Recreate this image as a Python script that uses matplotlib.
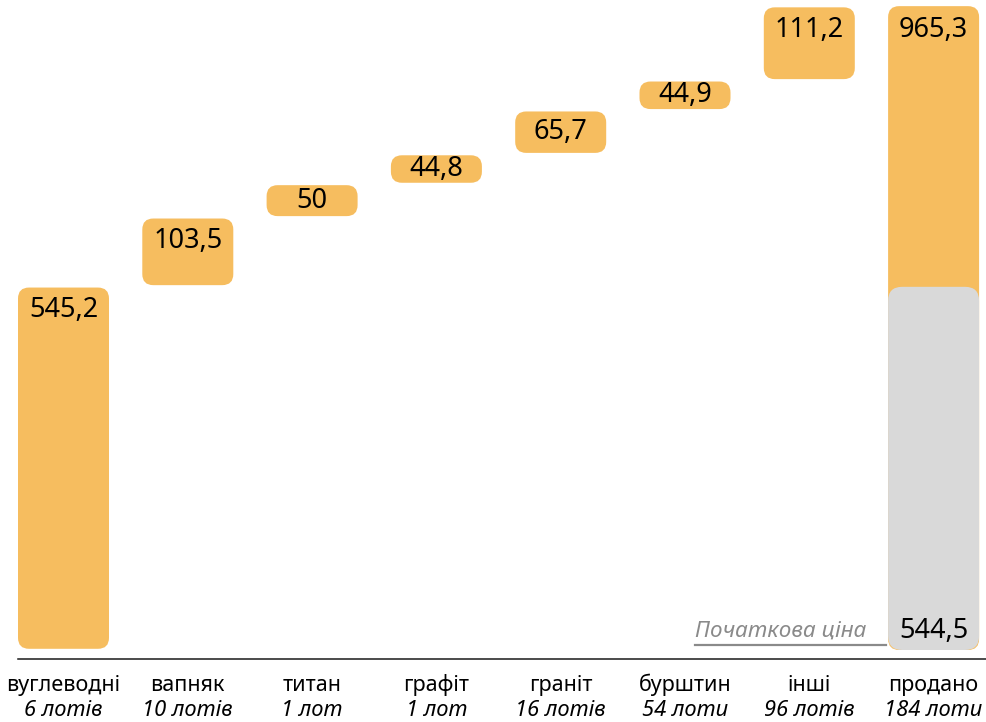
import matplotlib
matplotlib.use("Agg")
import matplotlib.pyplot as plt
from matplotlib.patches import FancyBboxPatch
from matplotlib.lines import Line2D

plt.rcParams['font.family'] = ['Noto Sans', 'DejaVu Sans']

categories = ['вуглеводні', 'вапняк', 'титан', 'графіт', 'граніт', 'бурштин', 'інші', 'продано']
lots = ['6 лотів', '10 лотів', '1 лот', '1 лот', '16 лотів', '54 лоти', '96 лотів', '184 лоти']
increments = [545.2, 103.5, 50, 44.8, 65.7, 44.9, 111.2]
total = 965.3
initial_price = 544.5
initial_label = 'Початкова ціна'

ORANGE = '#F6BD5F'
GREY = '#D9D9D9'

W, H = 986, 722
fig = plt.figure(figsize=(W / 100, H / 100), dpi=100)
ax = fig.add_axes([18 / W, 63 / H, 1 - 18 / W, 659 / H])

px_x = 124.3          # pixels per x unit
px_y = 0.667          # pixels per value unit
ax_w_px = W - 18
ax_h_px = 659
x_left = -45.5 / px_x
ax.set_xlim(x_left, x_left + ax_w_px / px_x)
y_bot = -9 / px_y
ax.set_ylim(y_bot, y_bot + ax_h_px / px_y)

for s in ['top', 'right', 'left']:
    ax.spines[s].set_visible(False)
ax.spines['bottom'].set_color('#1a1a1a')
ax.spines['bottom'].set_linewidth(1.1)
ax.set_xticks([])
ax.set_yticks([])

bw = 91 / px_x
aspect = px_x / px_y
gap = 1.2 / px_y


def rbar(x, bottom, height, color, radius_px=11, shrink=True):
    g = gap if shrink else 0
    y0 = bottom + g
    h = height - 2 * g
    h_px = h * px_y
    r_px = min(radius_px, h_px / 2 - 0.5)
    r = r_px / px_x
    p = FancyBboxPatch((x - bw / 2, y0), bw, h,
                       boxstyle=f"round,pad=0,rounding_size={r}",
                       mutation_aspect=aspect, facecolor=color,
                       edgecolor='none', linewidth=0, zorder=2)
    ax.add_patch(p)


def fmt(v):
    return f"{v:g}".replace('.', ',')


def top_label(x, top, height, text):
    h_px = height * px_y
    off = min(21.5, h_px / 2 - 2.5) + 9.5
    ax.annotate(text, xy=(x, top),
                xytext=(0, -off), textcoords='offset pixels',
                ha='center', va='baseline', fontsize=19.5, color='black', zorder=4)


cum = 0
for i, v in enumerate(increments):
    rbar(i, cum, v, ORANGE)
    top_label(i, cum + v, v, fmt(v))
    cum += v

# total bar with initial price
n = len(increments)
rbar(n, 0, total, ORANGE, shrink=False)
top_label(n, total, total, fmt(total))
rbar(n, 0, initial_price, GREY, radius_px=14, shrink=False)
ax.annotate(fmt(initial_price), xy=(n, 0), xytext=(0, 12), textcoords='offset pixels',
            ha='center', va='baseline', fontsize=19.5, color='black', zorder=4)

t = ax.annotate(initial_label, xy=(n - bw / 2, 0), xytext=(-22, 13),
                textcoords='offset pixels', ha='right', va='baseline',
                fontsize=16.2, style='italic', color='#8a8a8a', zorder=4)
fig.canvas.draw()
bb = t.get_window_extent(fig.canvas.get_renderer())
inv = ax.transData.inverted()
x_start = inv.transform((bb.x0, 0))[0]
uy = 5.5 / px_y
ax.add_line(Line2D([x_start, n - bw / 2 - 2 / px_x], [uy, uy], color='#8a8a8a',
                   linewidth=1.6, zorder=3))

# category labels
for i, (c, l) in enumerate(zip(categories, lots)):
    ax.annotate(c, xy=(i, 0), xycoords=('data', 'axes fraction'),
                xytext=(0, -32), textcoords='offset pixels',
                ha='center', va='baseline', fontsize=15.5, color='black',
                annotation_clip=False)
    ax.annotate(l, xy=(i, 0), xycoords=('data', 'axes fraction'),
                xytext=(0, -57), textcoords='offset pixels',
                ha='center', va='baseline', fontsize=15.8, style='italic',
                color='black', annotation_clip=False)

fig.savefig('out.png', dpi=100)
